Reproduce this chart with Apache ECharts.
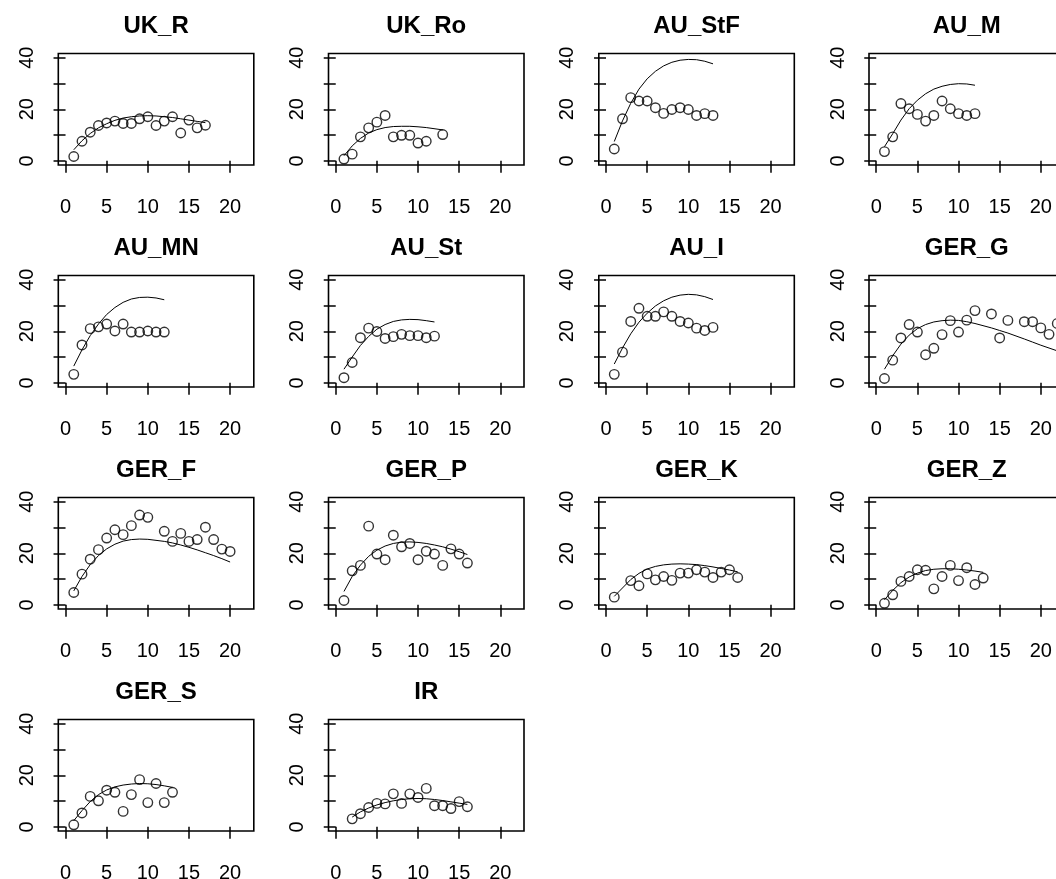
<!DOCTYPE html>
<html><head><meta charset="utf-8">
<script src="https://cdn.jsdelivr.net/npm/echarts@6/dist/echarts.min.js"></script>
<style>html,body{margin:0;padding:0;background:#fff}#c{width:1056px;height:879px}</style>
</head><body><div id="c"></div>
<script>
// ---------- data ----------
const panelNames = ['UK_R','UK_Ro','AU_StF','AU_M','AU_MN','AU_St','AU_I','GER_G','GER_F','GER_P','GER_K','GER_Z','GER_S','IR'];
const xTickValues = [0, 5, 10, 15, 20];
const yTickValues = [0, 10, 20, 30, 40];
const yLabelValues = [0, 20, 40];

const UK_R_age = [1,2,3,4,5,6,7,8,9,10,11,12,13,14,15,16,17];
const UK_R_obs = [1.7,7.6,11.1,13.7,14.7,15.4,14.5,14.5,16.3,17.1,13.7,15.4,17.1,10.8,15.8,12.8,13.8];
const UK_R_fit = [4.3,7.8,10.6,12.8,14.4,15.7,16.6,17.1,17.4,17.5,17.4,17.1,16.8,16.3,15.8,15.3,14.8];

const UK_Ro_age = [1,2,3,4,5,6,7,8,9,10,11,13];
const UK_Ro_obs = [0.7,2.6,9.3,12.8,15.0,17.6,9.3,9.9,9.9,6.9,7.6,10.2];
const UK_Ro_fit = [2.0,5.8,8.7,10.8,12.1,12.9,13.3,13.4,13.4,13.2,12.9,12.0];

const AU_StF_age = [1,2,3,4,5,6,7,8,9,10,11,12,13];
const AU_StF_obs = [4.6,16.3,24.5,23.2,23.2,20.6,18.4,19.9,20.6,19.9,17.6,18.3,17.6];
const AU_StF_fit = [7.5,15.5,22.3,27.8,31.8,34.7,36.8,38.2,39.0,39.3,39.2,38.6,37.6];

const AU_M_age = [1,2,3,4,5,6,7,8,9,10,11,12];
const AU_M_obs = [3.6,9.3,22.2,20.2,18.0,15.4,17.6,23.2,20.2,18.3,17.6,18.3];
const AU_M_fit = [5.5,10.5,15.8,20.2,23.5,26.0,27.8,28.9,29.6,29.9,29.8,29.3];

const AU_MN_age = [1,2,3,4,5,6,7,8,9,10,11,12];
const AU_MN_obs = [3.3,14.7,21.0,21.7,22.8,20.1,22.8,19.7,19.7,20.1,19.7,19.7];
const AU_MN_fit = [6.5,12.8,18.3,22.8,26.5,29.2,31.2,32.5,33.1,33.2,32.9,32.2];

const AU_St_age = [1,2,3,4,5,6,7,8,9,10,11,12];
const AU_St_obs = [2.0,7.9,17.5,21.2,19.9,17.2,17.9,18.8,18.3,18.3,17.5,18.1];
const AU_St_fit = [5.3,10.0,14.5,18.0,20.8,22.6,23.8,24.4,24.6,24.5,24.1,23.6];

const AU_I_age = [1,2,3,4,5,6,7,8,9,10,11,12,13];
const AU_I_obs = [3.3,11.9,23.8,28.9,25.8,25.8,27.5,25.8,23.8,23.2,21.2,20.3,21.5];
const AU_I_fit = [7.3,13.5,19.0,23.5,27.0,29.8,31.8,33.2,34.0,34.3,34.1,33.4,32.3];

const GER_G_age = [1,2,3,4,5,6,7,8,9,10,11,12,14,15,16,18,19,20,21,22];
const GER_G_obs = [1.7,8.8,17.4,22.6,19.7,10.9,13.4,18.7,24.1,19.7,24.3,28.0,26.7,17.4,24.2,23.7,23.7,21.3,18.8,23.0];
const GER_G_fit = [5.3,10.5,15.0,18.5,21.0,22.6,23.6,24.1,24.3,24.2,23.7,23.0,21.3,20.3,19.3,17.0,15.8,14.6,13.5,12.4];

const GER_F_age = [1,2,3,4,5,6,7,8,9,10,12,13,14,15,16,17,18,19,20];
const GER_F_obs = [4.8,11.9,17.7,21.4,25.9,29.1,27.2,30.7,34.8,33.9,28.5,24.6,27.7,24.6,25.3,30.1,25.3,21.6,20.7];
const GER_F_fit = [5.4,11.0,15.6,19.1,21.7,23.5,24.7,25.3,25.5,25.4,24.6,24.0,23.2,22.3,21.3,20.2,19.1,17.9,16.6];

const GER_P_age = [1,2,3,4,5,6,7,8,9,10,11,12,13,14,15,16];
const GER_P_obs = [1.7,13.2,15.3,30.5,19.7,17.5,27.0,22.5,23.8,17.5,20.8,19.7,15.3,21.7,19.7,16.2];
const GER_P_fit = [5.2,11.0,15.4,18.8,21.2,22.8,23.8,24.3,24.4,24.2,23.8,23.2,22.5,21.6,20.6,19.5];

const GER_K_age = [1,3,4,5,6,7,8,9,10,11,12,13,14,15,16];
const GER_K_obs = [3.0,9.4,7.4,12.0,9.7,11.0,9.5,12.3,12.3,13.6,12.7,10.6,12.7,13.6,10.6];
const GER_K_fit = [3.3,9.8,12.2,13.9,14.9,15.5,15.8,15.9,15.8,15.6,15.2,14.7,14.1,13.5,12.8];

const GER_Z_age = [1,2,3,4,5,6,7,8,9,10,11,12,13];
const GER_Z_obs = [0.6,3.9,9.1,11.0,13.6,13.4,6.2,11.0,15.3,9.4,14.4,7.9,10.4];
const GER_Z_fit = [2.0,5.6,8.6,10.8,12.3,13.3,13.8,14.0,14.0,13.8,13.5,13.1,12.6];

const GER_S_age = [1,2,3,4,5,6,7,8,9,10,11,12,13];
const GER_S_obs = [0.8,5.4,11.8,10.1,14.2,13.4,6.0,12.5,18.3,9.4,16.8,9.4,13.4];
const GER_S_fit = [2.4,6.3,9.8,12.5,14.3,15.5,16.2,16.6,16.8,16.7,16.4,15.9,15.3];

const IR_age = [2,3,4,5,6,7,8,9,10,11,12,13,14,15,16];
const IR_obs = [3.1,5.1,7.5,9.1,8.9,12.8,9.1,12.8,11.4,14.9,8.2,8.2,7.1,9.8,7.8];
const IR_fit = [3.8,5.8,7.3,8.5,9.4,10.1,10.6,10.9,11.0,10.9,10.6,10.2,9.7,9.2,8.7];

const panelData = {
  UK_R: [UK_R_age, UK_R_obs, UK_R_fit],
  UK_Ro: [UK_Ro_age, UK_Ro_obs, UK_Ro_fit],
  AU_StF: [AU_StF_age, AU_StF_obs, AU_StF_fit],
  AU_M: [AU_M_age, AU_M_obs, AU_M_fit],
  AU_MN: [AU_MN_age, AU_MN_obs, AU_MN_fit],
  AU_St: [AU_St_age, AU_St_obs, AU_St_fit],
  AU_I: [AU_I_age, AU_I_obs, AU_I_fit],
  GER_G: [GER_G_age, GER_G_obs, GER_G_fit],
  GER_F: [GER_F_age, GER_F_obs, GER_F_fit],
  GER_P: [GER_P_age, GER_P_obs, GER_P_fit],
  GER_K: [GER_K_age, GER_K_obs, GER_K_fit],
  GER_Z: [GER_Z_age, GER_Z_obs, GER_Z_fit],
  GER_S: [GER_S_age, GER_S_obs, GER_S_fit],
  IR: [IR_age, IR_obs, IR_fit]
};

// ---------- layout / style ----------
const FONT = '"Liberation Sans", Arial, sans-serif';
const COL_LEFT = [58.3, 328.5, 598.8, 869];
const ROW_TOP = [53.5, 275.5, 497.5, 719.5];
const BOX_W = 195.5, BOX_H = 111.5;
const TITLE_DY = -39;
const X_MIN = -0.88, X_MAX = 22.88, Y_MIN = -1.6, Y_MAX = 41.6;

const grids = [], xAxes = [], yAxes = [], titles = [], series = [];
panelNames.forEach((name, i) => {
  const col = i % 4, row = Math.floor(i / 4);
  const left = COL_LEFT[col], top = ROW_TOP[row];
  grids.push({
    left: left, top: top, width: BOX_W, height: BOX_H,
    show: true, borderColor: '#000', borderWidth: 1.6, backgroundColor: 'transparent',
    containLabel: false, outerBoundsMode: 'none'
  });
  titles.push({
    text: name, left: left + BOX_W / 2, top: top + TITLE_DY, textAlign: 'center', padding: 0,
    textStyle: { fontSize: 24, fontWeight: 'bold', color: '#000', fontFamily: FONT }
  });
  xAxes.push({
    type: 'value', gridIndex: i, min: X_MIN, max: X_MAX,
    axisLine: { show: false }, splitLine: { show: false },
    axisTick: { show: true, inside: false, length: 12, customValues: xTickValues,
      lineStyle: { color: '#000', width: 1.5 } },
    axisLabel: { show: true, customValues: xTickValues, margin: 42, verticalAlign: 'middle', align: 'center',
      fontSize: 20, color: '#000', fontFamily: FONT }
  });
  yAxes.push({
    type: 'value', gridIndex: i, min: Y_MIN, max: Y_MAX,
    axisLine: { show: false }, splitLine: { show: false },
    axisTick: { show: true, inside: false, length: 12, customValues: yTickValues,
      lineStyle: { color: '#000', width: 1.5 } },
    axisLabel: { show: true, customValues: yLabelValues, rotate: 90, margin: 31,
      align: 'center', verticalAlign: 'middle',
      fontSize: 20, color: '#000', fontFamily: FONT }
  });
  const [age, obs, fit] = panelData[name];
  series.push({
    type: 'scatter', xAxisIndex: i, yAxisIndex: i, silent: true, z: 2,
    symbol: 'circle', symbolSize: 9.5,
    itemStyle: { color: 'rgba(0,0,0,0)', borderColor: '#000', borderWidth: 1.4 },
    data: age.map((a, k) => [a, obs[k]])
  });
  series.push({
    type: 'line', xAxisIndex: i, yAxisIndex: i, silent: true, z: 3,
    symbol: 'none', showSymbol: false,
    lineStyle: { color: '#000', width: 1 },
    data: age.map((a, k) => [a, fit[k]])
  });
});

const chart = echarts.init(document.getElementById('c'), null, { renderer: 'canvas' });
chart.setOption({
  animation: false,
  backgroundColor: '#fff',
  textStyle: { fontFamily: FONT },
  title: titles,
  grid: grids,
  xAxis: xAxes,
  yAxis: yAxes,
  series: series
});
</script></body></html>
